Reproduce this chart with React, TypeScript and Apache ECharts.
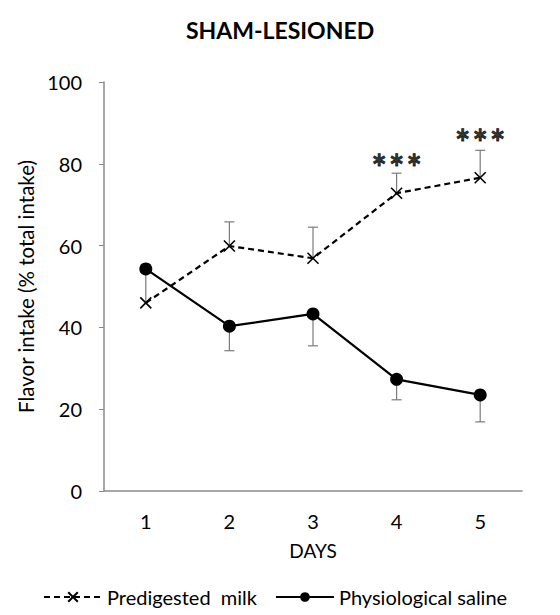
import React, { useEffect, useRef } from "react";
import * as echarts from "echarts";

const days = ["1", "2", "3", "4", "5"];
const milk = [46.0, 59.9, 56.9, 72.8, 76.6];
const milkErrHigh = [null, 65.8, 64.5, 77.7, 83.3];
const saline = [54.3, 40.3, 43.3, 27.3, 23.5];
const salineErrLow = [46.3, 34.3, 35.5, 22.3, 16.9];
const yTicks = [0, 20, 40, 60, 80, 100];
const starLabels = [
  { day: "4", text: "*\u200A*\u200A*" },
  { day: "5", text: "*\u200A*\u200A*" },
];
const starY = [79.3, 85.3];

const FONT = "Lato";
const X_PATH = "path://M0,0 L10,10 M10,0 L0,10";

export default function App() {
  const ref = useRef<HTMLDivElement>(null);
  useEffect(() => {
    if (!ref.current) return;
    const chart = echarts.init(ref.current, null, { renderer: "svg" });

    const errData: any[] = [];
    milk.forEach((v, i) => {
      const h = milkErrHigh[i];
      if (h != null) errData.push([i, v, h, 1]);
    });
    saline.forEach((v, i) => {
      const l = salineErrLow[i];
      errData.push([i, l, v, 0]);
    });

    chart.setOption({
      animation: false,
      title: {
        text: "SHAM-LESIONED",
        left: "center",
        top: 13,
        textStyle: { fontFamily: FONT, fontWeight: "bold", fontSize: 23, color: "#000" },
      },
      grid: { left: 104, right: 38, top: 82, bottom: 124 },
      legend: {
        bottom: 3,
        left: 38,
        itemWidth: 58,
        itemHeight: 12,
        itemGap: 18,
        data: ["Predigested  milk", "Physiological saline"],
        textStyle: { fontFamily: FONT, fontSize: 20, color: "#000" },
      },
      xAxis: {
        type: "category",
        data: days,
        boundaryGap: true,
        name: "DAYS",
        nameLocation: "middle",
        nameGap: 50,
        nameTextStyle: { fontFamily: FONT, fontSize: 19, color: "#000" },
        axisLine: { lineStyle: { color: "#8a8a8a", width: 1.5 } },
        axisTick: { show: false },
        axisLabel: { fontFamily: FONT, fontSize: 20, color: "#000", margin: 20 },
      },
      yAxis: {
        type: "value",
        min: 0,
        max: 100,
        interval: 20,
        name: "Flavor intake (% total intake)",
        nameLocation: "middle",
        nameGap: 66,
        nameTextStyle: { fontFamily: FONT, fontSize: 20.5, color: "#000" },
        axisLine: { show: true, lineStyle: { color: "#8a8a8a", width: 1.5 } },
        axisTick: { show: true, length: 5, lineStyle: { color: "#8a8a8a" } },
        splitLine: { show: false },
        axisLabel: {
          fontFamily: FONT,
          fontSize: 20,
          color: "#000",
          margin: 22,
          formatter: (v: number) => (yTicks.includes(v) ? String(v) : ""),
        },
      },
      series: [
        {
          type: "custom",
          name: "err",
          silent: true,
          z: 1,
          data: errData,
          renderItem: (params: any, api: any) => {
            const x = api.coord([api.value(0), api.value(1)])[0];
            const y1 = api.coord([api.value(0), api.value(1)])[1];
            const y2 = api.coord([api.value(0), api.value(2)])[1];
            const isMilk = api.value(3) === 1;
            const capY = isMilk ? y2 : y1;
            const style = { stroke: "#7a7a7a", lineWidth: 1.2 };
            const children: any[] = [
              { type: "line", shape: { x1: x, y1: y1, x2: x, y2: y2 }, style },
            ];
            if (!(api.value(0) === 0)) {
              children.push({ type: "line", shape: { x1: x - 5, y1: capY, x2: x + 5, y2: capY }, style });
            }
            return { type: "group", children };
          },
        },
        {
          type: "line",
          name: "Predigested  milk",
          data: milk,
          z: 3,
          symbol: X_PATH,
          symbolSize: 11,
          showAllSymbol: true,
          itemStyle: { color: "#fff", borderColor: "#000", borderWidth: 1.6 },
          lineStyle: { color: "#000", width: 2.2, type: [6, 4] },
        },
        {
          type: "line",
          name: "Physiological saline",
          data: saline,
          z: 3,
          symbol: "circle",
          symbolSize: 13,
          itemStyle: { color: "#000" },
          lineStyle: { color: "#000", width: 2.2 },
        },
        {
          type: "scatter",
          name: "stars",
          silent: true,
          symbolSize: 0,
          data: starLabels.map((s, i) => ({ value: [s.day, starY[i]], label: { formatter: s.text } })),
          label: {
            show: true,
            position: "inside",
            fontFamily: FONT,
            fontSize: 36,
            fontWeight: "bold",
            color: "#000",
            textBorderColor: "#000",
            textBorderWidth: 0.8,
          },
        },
      ],
    });
    return () => chart.dispose();
  }, []);

  return (
    <div
      ref={ref}
      style={{ position: "absolute", left: 0, top: 0, width: 560, height: 615, background: "#fff" }}
    />
  );
}
